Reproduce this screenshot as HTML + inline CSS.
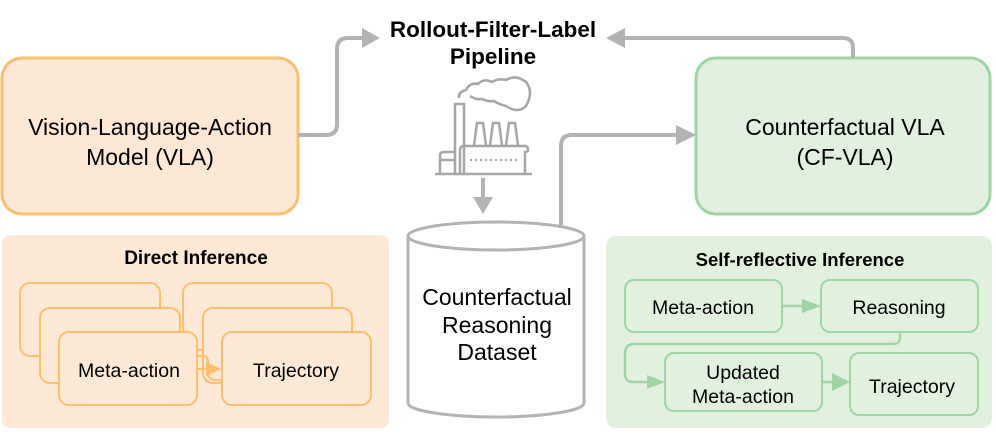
<!DOCTYPE html>
<html><head><meta charset="utf-8"><style>
body{margin:0;background:#fff;}
svg{display:block;font-family:"Liberation Sans",sans-serif;}
</style></head><body>
<svg width="996" height="433" viewBox="0 0 996 433">
<!-- top boxes -->
<rect x="2" y="58" width="296" height="156" rx="20" fill="#fde8d5" stroke="#fbbf6e" stroke-width="3"/>
<text x="150" y="135" font-size="23" text-anchor="middle">Vision-Language-Action</text>
<text x="150" y="165" font-size="23" text-anchor="middle">Model (VLA)</text>
<rect x="696" y="58" width="294" height="156" rx="20" fill="#e2f0e0" stroke="#9fd4a4" stroke-width="3"/>
<text x="845" y="135" font-size="23" text-anchor="middle">Counterfactual VLA</text>
<text x="845" y="165" font-size="23" text-anchor="middle">(CF-VLA)</text>
<!-- title -->
<text x="493" y="37" font-size="22.5" font-weight="bold" text-anchor="middle">Rollout-Filter-Label</text>
<text x="493" y="64" font-size="22.5" font-weight="bold" text-anchor="middle">Pipeline</text>
<!-- connectors -->
<g fill="none" stroke="#b3b3b3" stroke-width="4">
<path d="M298,135 H326 Q337,135 337,124 V49 Q337,38 348,38 H362"/>
<path d="M853,58 V48 Q853,38 843,38 H625"/>
<path d="M561,225 V146 Q561,135 572,135 H676"/>
<path d="M483,178 V200"/>
</g>
<path d="M362,28 L380,38 L362,48z" fill="#b3b3b3"/>
<path d="M625,28 L606,38 L625,48z" fill="#b3b3b3"/>
<path d="M676,125 L696,135 L676,145z" fill="#b3b3b3"/>
<path d="M473,197 L483,214 L493,197z" fill="#b3b3b3"/>
<!-- factory -->
<g fill="none" stroke="#a6a6a6" stroke-width="2.5">
<path d="M435,174 H532"/>
<path d="M455,174 V104 H464 V174"/>
<path d="M440,174 V155 Q440,152 444,152 H455"/>
<path d="M440,160 H455"/>
<path d="M460,174 V150 Q460,146 464,146 H525 Q528,146 528,150 Q528,152 525,152 V174"/>
<path d="M474,145 L477,123 H483 L486,145 M490,145 L493,123 H499 L502,145 M506,145 L509,123 H515 L518,145"/>
<path d="M459,98 Q458,92 466,90 Q470,82 478,84 Q484,78 492,82 Q498,78 506,80 Q516,74 526,82 Q534,92 526,106 Q518,114 506,106 Q498,104 494,101 Q488,102 482,99 Q476,100 470,96"/>
</g>
<g stroke="#a6a6a6" stroke-width="2" stroke-dasharray="2,3"><path d="M470,160 H517"/></g>
<!-- cylinder -->
<path d="M408,236 V403 A88,14 0 0 0 584,403 V236" fill="#fff" stroke="#b3b3b3" stroke-width="3"/>
<ellipse cx="496" cy="236" rx="88" ry="14" fill="#fff" stroke="#b3b3b3" stroke-width="3"/>
<text x="497" y="305" font-size="23" text-anchor="middle">Counterfactual</text>
<text x="497" y="333" font-size="23" text-anchor="middle">Reasoning</text>
<text x="497" y="360" font-size="23" text-anchor="middle">Dataset</text>
<!-- left panel -->
<rect x="2" y="235" width="387" height="193" rx="8" fill="#fde9d6"/>
<text x="196" y="264" font-size="19" font-weight="bold" text-anchor="middle">Direct Inference</text>
<g fill="#fde9d6" stroke="#fbbf6e" stroke-width="2">
<rect x="20" y="283" width="140" height="73" rx="10"/>
<rect x="40" y="308" width="140" height="75" rx="10"/>
<rect x="183" y="283" width="149" height="67" rx="10"/>
<rect x="203" y="308" width="149" height="75" rx="10"/>
<path d="M197,356 H203 Q208,356 208,362 V372 Q208,380 216,380 H222" fill="none"/>
<rect x="59" y="332" width="138" height="73" rx="10"/>
<rect x="222" y="332" width="149" height="73" rx="10"/>
<path d="M197,369 H210" fill="none"/>
</g>
<path d="M206,362 L221,369 L206,376z" fill="#fbbf6e"/>
<text x="129" y="377" font-size="19.5" text-anchor="middle">Meta-action</text>
<text x="296" y="377" font-size="19.5" text-anchor="middle">Trajectory</text>
<!-- right panel -->
<rect x="606" y="236" width="386" height="192" rx="10" fill="#e2f0de"/>
<text x="800" y="266" font-size="18.5" font-weight="bold" text-anchor="middle">Self-reflective Inference</text>
<g fill="#e2f0de" stroke="#9fd4a4" stroke-width="2">
<rect x="625" y="280" width="157" height="52" rx="9"/>
<rect x="821" y="280" width="157" height="52" rx="9"/>
<rect x="665" y="353" width="157" height="58" rx="9"/>
<rect x="850" y="353" width="128" height="62" rx="9"/>
</g>
<g fill="none" stroke="#9fd4a4" stroke-width="2.5">
<path d="M782,306 H806 M900,333 V338 Q900,344 892,344 H634 Q625,344 625,354 V374 Q625,382 633,382 H650 M822,382 H834"/>
</g>
<path d="M802,299 L821,306 L802,313z M647,375 L665,382 L647,389z M832,373 L850,382 L832,391z" fill="#9fd4a4"/>
<text x="703" y="314" font-size="19.5" text-anchor="middle">Meta-action</text>
<text x="899" y="314" font-size="19.5" text-anchor="middle">Reasoning</text>
<text x="743" y="379" font-size="19.5" text-anchor="middle">Updated</text>
<text x="743" y="403" font-size="19.5" text-anchor="middle">Meta-action</text>
<text x="912" y="393" font-size="19.5" text-anchor="middle">Trajectory</text>
</svg>
</body></html>
